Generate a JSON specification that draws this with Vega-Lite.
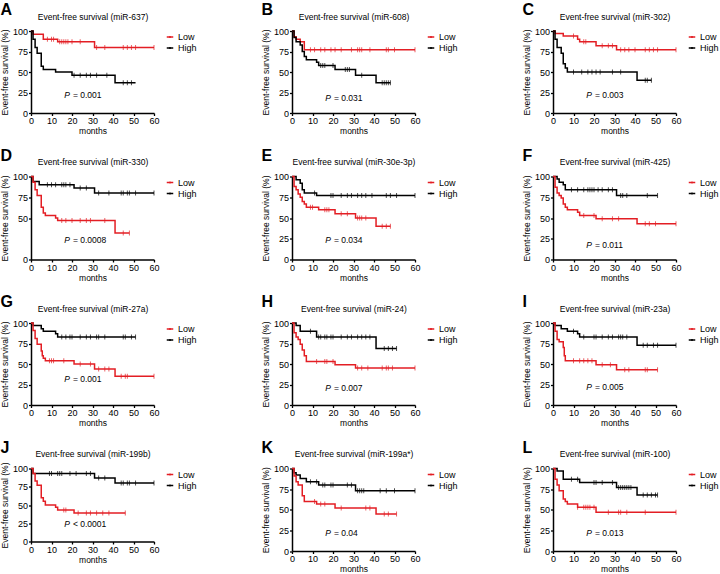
{
"$schema":"https://vega.github.io/schema/vega-lite/v6.json",
"padding":{"left":0,"top":2,"right":0,"bottom":0},
"background":"white",
"config":{
 "font":"Liberation Sans",
 "view":{"stroke":null},
 "axis":{"grid":false,"domainColor":"#000","domainWidth":1.5,"tickColor":"#000","tickWidth":1.3,"tickSize":2.5,"labelFont":"Liberation Sans","labelFontSize":9,"labelColor":"#000","labelPadding":1,"titleFont":"Liberation Sans","titleFontSize":8.5,"titleFontWeight":"normal","titleColor":"#000","titlePadding":2,"labelFlush":false,"labelOverlap":false},
 "axisX":{"titlePadding":1},
 "axisY":{"titlePadding":3},
 "legend":{"orient":"right","offset":7,"padding":0,"labelFont":"Liberation Sans","labelFontSize":9,"labelColor":"#000","symbolType":"M-0.65,0H0.65M0,-0.22V0.22","symbolSize":100,"symbolStrokeWidth":1.5,"rowPadding":-3,"labelOffset":2},
 "title":{"font":"Liberation Sans","fontSize":16,"fontWeight":"bold","anchor":"start","frame":"bounds","color":"#000","offset":-6},
 "line":{"strokeWidth":1.5},
 "tick":{"thickness":1,"size":5},
 "text":{"font":"Liberation Sans","fontSize":8.5,"color":"#000"}
},
"datasets":{
"pv":[
{"p":"A","v":"= 0.001"},{"p":"B","v":"= 0.031"},{"p":"C","v":"= 0.003"},{"p":"D","v":"= 0.0008"},{"p":"E","v":"= 0.034"},{"p":"F","v":"= 0.011"},{"p":"G","v":"= 0.001"},{"p":"H","v":"= 0.007"},{"p":"I","v":"= 0.005"},{"p":"J","v":"< 0.0001"},{"p":"K","v":"= 0.04"},{"p":"L","v":"= 0.013"}
],
"steps":[
{"p":"A","g":"Low","t":0,"s":100},{"p":"A","g":"Low","t":1,"s":96},{"p":"A","g":"Low","t":6,"s":90},{"p":"A","g":"Low","t":13,"s":87},{"p":"A","g":"Low","t":31,"s":80},{"p":"A","g":"Low","t":60,"s":80},
{"p":"A","g":"High","t":0,"s":100},{"p":"A","g":"High","t":1,"s":90},{"p":"A","g":"High","t":2,"s":80},{"p":"A","g":"High","t":3,"s":73},{"p":"A","g":"High","t":5,"s":57},{"p":"A","g":"High","t":6,"s":53},{"p":"A","g":"High","t":12,"s":50},{"p":"A","g":"High","t":20,"s":46},{"p":"A","g":"High","t":41,"s":37},{"p":"A","g":"High","t":51,"s":37},
{"p":"B","g":"Low","t":0,"s":100},{"p":"B","g":"Low","t":1,"s":93},{"p":"B","g":"Low","t":2,"s":90},{"p":"B","g":"Low","t":4,"s":87},{"p":"B","g":"Low","t":6,"s":77},{"p":"B","g":"Low","t":60,"s":77},
{"p":"B","g":"High","t":0,"s":100},{"p":"B","g":"High","t":1,"s":92},{"p":"B","g":"High","t":2,"s":87},{"p":"B","g":"High","t":4,"s":83},{"p":"B","g":"High","t":5,"s":75},{"p":"B","g":"High","t":6,"s":69},{"p":"B","g":"High","t":7,"s":65},{"p":"B","g":"High","t":12,"s":62},{"p":"B","g":"High","t":13,"s":58},{"p":"B","g":"High","t":21,"s":53},{"p":"B","g":"High","t":31,"s":46},{"p":"B","g":"High","t":41,"s":37},{"p":"B","g":"High","t":48,"s":37},
{"p":"C","g":"Low","t":0,"s":100},{"p":"C","g":"Low","t":1,"s":97},{"p":"C","g":"Low","t":5,"s":94},{"p":"C","g":"Low","t":12,"s":90},{"p":"C","g":"Low","t":13,"s":87},{"p":"C","g":"Low","t":21,"s":82},{"p":"C","g":"Low","t":31,"s":77},{"p":"C","g":"Low","t":60,"s":77},
{"p":"C","g":"High","t":0,"s":100},{"p":"C","g":"High","t":1,"s":90},{"p":"C","g":"High","t":2,"s":80},{"p":"C","g":"High","t":4,"s":73},{"p":"C","g":"High","t":5,"s":60},{"p":"C","g":"High","t":6,"s":55},{"p":"C","g":"High","t":7,"s":50},{"p":"C","g":"High","t":41,"s":40},{"p":"C","g":"High","t":48,"s":40},
{"p":"D","g":"High","t":0,"s":100},{"p":"D","g":"High","t":1,"s":94},{"p":"D","g":"High","t":4,"s":90},{"p":"D","g":"High","t":21,"s":86},{"p":"D","g":"High","t":31,"s":80},{"p":"D","g":"High","t":60,"s":80},
{"p":"D","g":"Low","t":0,"s":100},{"p":"D","g":"Low","t":1,"s":93},{"p":"D","g":"Low","t":2,"s":84},{"p":"D","g":"Low","t":3,"s":77},{"p":"D","g":"Low","t":5,"s":63},{"p":"D","g":"Low","t":6,"s":56},{"p":"D","g":"Low","t":7,"s":53},{"p":"D","g":"Low","t":12,"s":50},{"p":"D","g":"Low","t":13,"s":47},{"p":"D","g":"Low","t":41,"s":32},{"p":"D","g":"Low","t":48,"s":32},
{"p":"E","g":"High","t":0,"s":100},{"p":"E","g":"High","t":2,"s":96},{"p":"E","g":"High","t":4,"s":92},{"p":"E","g":"High","t":5,"s":84},{"p":"E","g":"High","t":6,"s":80},{"p":"E","g":"High","t":12,"s":77},{"p":"E","g":"High","t":60,"s":77},
{"p":"E","g":"Low","t":0,"s":100},{"p":"E","g":"Low","t":1,"s":88},{"p":"E","g":"Low","t":2,"s":84},{"p":"E","g":"Low","t":3,"s":79},{"p":"E","g":"Low","t":4,"s":75},{"p":"E","g":"Low","t":5,"s":70},{"p":"E","g":"Low","t":6,"s":67},{"p":"E","g":"Low","t":7,"s":63},{"p":"E","g":"Low","t":13,"s":60},{"p":"E","g":"Low","t":21,"s":55},{"p":"E","g":"Low","t":31,"s":50},{"p":"E","g":"Low","t":41,"s":40},{"p":"E","g":"Low","t":48,"s":40},
{"p":"F","g":"High","t":0,"s":100},{"p":"F","g":"High","t":2,"s":97},{"p":"F","g":"High","t":3,"s":93},{"p":"F","g":"High","t":5,"s":90},{"p":"F","g":"High","t":6,"s":84},{"p":"F","g":"High","t":31,"s":77},{"p":"F","g":"High","t":51,"s":77},
{"p":"F","g":"Low","t":0,"s":100},{"p":"F","g":"Low","t":1,"s":87},{"p":"F","g":"Low","t":2,"s":80},{"p":"F","g":"Low","t":3,"s":77},{"p":"F","g":"Low","t":4,"s":74},{"p":"F","g":"Low","t":5,"s":67},{"p":"F","g":"Low","t":6,"s":63},{"p":"F","g":"Low","t":7,"s":60},{"p":"F","g":"Low","t":12,"s":57},{"p":"F","g":"Low","t":13,"s":53},{"p":"F","g":"Low","t":21,"s":49},{"p":"F","g":"Low","t":41,"s":43},{"p":"F","g":"Low","t":60,"s":43},
{"p":"G","g":"High","t":0,"s":100},{"p":"G","g":"High","t":1,"s":97},{"p":"G","g":"High","t":5,"s":93},{"p":"G","g":"High","t":6,"s":90},{"p":"G","g":"High","t":12,"s":87},{"p":"G","g":"High","t":13,"s":83},{"p":"G","g":"High","t":51,"s":83},
{"p":"G","g":"Low","t":0,"s":100},{"p":"G","g":"Low","t":1,"s":91},{"p":"G","g":"Low","t":2,"s":81},{"p":"G","g":"Low","t":3,"s":74},{"p":"G","g":"Low","t":5,"s":66},{"p":"G","g":"Low","t":5.5,"s":60},{"p":"G","g":"Low","t":6,"s":57},{"p":"G","g":"Low","t":7,"s":54},{"p":"G","g":"Low","t":21,"s":50},{"p":"G","g":"Low","t":31,"s":44},{"p":"G","g":"Low","t":41,"s":35},{"p":"G","g":"Low","t":60,"s":35},
{"p":"H","g":"High","t":0,"s":100},{"p":"H","g":"High","t":2,"s":97},{"p":"H","g":"High","t":4,"s":90},{"p":"H","g":"High","t":12,"s":83},{"p":"H","g":"High","t":41,"s":69},{"p":"H","g":"High","t":51,"s":69},
{"p":"H","g":"Low","t":0,"s":100},{"p":"H","g":"Low","t":1,"s":88},{"p":"H","g":"Low","t":2,"s":83},{"p":"H","g":"Low","t":3,"s":80},{"p":"H","g":"Low","t":4,"s":74},{"p":"H","g":"Low","t":5,"s":67},{"p":"H","g":"Low","t":6,"s":60},{"p":"H","g":"Low","t":7,"s":53},{"p":"H","g":"Low","t":21,"s":49},{"p":"H","g":"Low","t":31,"s":45},{"p":"H","g":"Low","t":60,"s":45},
{"p":"I","g":"High","t":0,"s":100},{"p":"I","g":"High","t":1,"s":97},{"p":"I","g":"High","t":4,"s":93},{"p":"I","g":"High","t":7,"s":90},{"p":"I","g":"High","t":12,"s":87},{"p":"I","g":"High","t":13,"s":83},{"p":"I","g":"High","t":41,"s":73},{"p":"I","g":"High","t":60,"s":73},
{"p":"I","g":"Low","t":0,"s":100},{"p":"I","g":"Low","t":1,"s":90},{"p":"I","g":"Low","t":2,"s":80},{"p":"I","g":"Low","t":3,"s":77},{"p":"I","g":"Low","t":5,"s":70},{"p":"I","g":"Low","t":5.5,"s":60},{"p":"I","g":"Low","t":6,"s":54},{"p":"I","g":"Low","t":21,"s":49},{"p":"I","g":"Low","t":31,"s":43},{"p":"I","g":"Low","t":51,"s":43},
{"p":"J","g":"High","t":0,"s":100},{"p":"J","g":"High","t":1,"s":93},{"p":"J","g":"High","t":31,"s":87},{"p":"J","g":"High","t":41,"s":80},{"p":"J","g":"High","t":60,"s":80},
{"p":"J","g":"Low","t":0,"s":100},{"p":"J","g":"Low","t":1,"s":93},{"p":"J","g":"Low","t":2,"s":83},{"p":"J","g":"Low","t":3,"s":77},{"p":"J","g":"Low","t":5,"s":60},{"p":"J","g":"Low","t":6,"s":55},{"p":"J","g":"Low","t":7,"s":50},{"p":"J","g":"Low","t":12,"s":47},{"p":"J","g":"Low","t":13,"s":43},{"p":"J","g":"Low","t":21,"s":39},{"p":"J","g":"Low","t":46,"s":39},
{"p":"K","g":"High","t":0,"s":100},{"p":"K","g":"High","t":1,"s":95},{"p":"K","g":"High","t":2,"s":92},{"p":"K","g":"High","t":4,"s":88},{"p":"K","g":"High","t":7,"s":84},{"p":"K","g":"High","t":13,"s":80},{"p":"K","g":"High","t":31,"s":73},{"p":"K","g":"High","t":60,"s":73},
{"p":"K","g":"Low","t":0,"s":100},{"p":"K","g":"Low","t":1,"s":91},{"p":"K","g":"Low","t":2,"s":84},{"p":"K","g":"Low","t":3,"s":80},{"p":"K","g":"Low","t":5,"s":67},{"p":"K","g":"Low","t":6,"s":60},{"p":"K","g":"Low","t":12,"s":57},{"p":"K","g":"Low","t":21,"s":52},{"p":"K","g":"Low","t":41,"s":45},{"p":"K","g":"Low","t":51,"s":45},
{"p":"L","g":"High","t":0,"s":100},{"p":"L","g":"High","t":2,"s":97},{"p":"L","g":"High","t":5,"s":87},{"p":"L","g":"High","t":13,"s":83},{"p":"L","g":"High","t":31,"s":77},{"p":"L","g":"High","t":41,"s":68},{"p":"L","g":"High","t":51,"s":68},
{"p":"L","g":"Low","t":0,"s":100},{"p":"L","g":"Low","t":1,"s":87},{"p":"L","g":"Low","t":2,"s":80},{"p":"L","g":"Low","t":3,"s":73},{"p":"L","g":"Low","t":5,"s":63},{"p":"L","g":"Low","t":6,"s":60},{"p":"L","g":"Low","t":7,"s":57},{"p":"L","g":"Low","t":12,"s":53},{"p":"L","g":"Low","t":21,"s":47},{"p":"L","g":"Low","t":60,"s":47}
],
"cens":[
{"p":"A","g":"Low","t":8,"s":90},{"p":"A","g":"Low","t":10,"s":90},{"p":"A","g":"Low","t":11,"s":90},{"p":"A","g":"Low","t":14,"s":87},{"p":"A","g":"Low","t":15,"s":87},{"p":"A","g":"Low","t":16,"s":87},{"p":"A","g":"Low","t":17,"s":87},{"p":"A","g":"Low","t":18,"s":87},{"p":"A","g":"Low","t":20,"s":87},{"p":"A","g":"Low","t":24,"s":87},{"p":"A","g":"Low","t":32,"s":80},{"p":"A","g":"Low","t":36,"s":80},{"p":"A","g":"Low","t":45,"s":80},{"p":"A","g":"Low","t":47,"s":80},{"p":"A","g":"Low","t":49,"s":80},{"p":"A","g":"Low","t":51,"s":80},{"p":"A","g":"Low","t":60,"s":80},
{"p":"A","g":"High","t":21,"s":46},{"p":"A","g":"High","t":24,"s":46},{"p":"A","g":"High","t":27,"s":46},{"p":"A","g":"High","t":29,"s":46},{"p":"A","g":"High","t":32,"s":46},{"p":"A","g":"High","t":37,"s":46},{"p":"A","g":"High","t":45,"s":37},{"p":"A","g":"High","t":47,"s":37},{"p":"A","g":"High","t":49,"s":37},
{"p":"B","g":"Low","t":9,"s":77},{"p":"B","g":"Low","t":11,"s":77},{"p":"B","g":"Low","t":14,"s":77},{"p":"B","g":"Low","t":16,"s":77},{"p":"B","g":"Low","t":19,"s":77},{"p":"B","g":"Low","t":21,"s":77},{"p":"B","g":"Low","t":24,"s":77},{"p":"B","g":"Low","t":29,"s":77},{"p":"B","g":"Low","t":32,"s":77},{"p":"B","g":"Low","t":33,"s":77},{"p":"B","g":"Low","t":34,"s":77},{"p":"B","g":"Low","t":38,"s":77},{"p":"B","g":"Low","t":46,"s":77},{"p":"B","g":"Low","t":47,"s":77},{"p":"B","g":"Low","t":50,"s":77},{"p":"B","g":"Low","t":60,"s":77},
{"p":"B","g":"High","t":14,"s":58},{"p":"B","g":"High","t":15,"s":58},{"p":"B","g":"High","t":16,"s":58},{"p":"B","g":"High","t":20,"s":58},{"p":"B","g":"High","t":26,"s":53},{"p":"B","g":"High","t":27,"s":53},{"p":"B","g":"High","t":28,"s":53},{"p":"B","g":"High","t":34,"s":46},{"p":"B","g":"High","t":44,"s":37},{"p":"B","g":"High","t":45,"s":37},{"p":"B","g":"High","t":46,"s":37},{"p":"B","g":"High","t":47,"s":37},{"p":"B","g":"High","t":48,"s":37},
{"p":"C","g":"Low","t":10,"s":94},{"p":"C","g":"Low","t":15,"s":87},{"p":"C","g":"Low","t":16,"s":87},{"p":"C","g":"Low","t":24,"s":82},{"p":"C","g":"Low","t":27,"s":82},{"p":"C","g":"Low","t":29,"s":82},{"p":"C","g":"Low","t":33,"s":77},{"p":"C","g":"Low","t":35,"s":77},{"p":"C","g":"Low","t":37,"s":77},{"p":"C","g":"Low","t":40,"s":77},{"p":"C","g":"Low","t":45,"s":77},{"p":"C","g":"Low","t":47,"s":77},{"p":"C","g":"Low","t":49,"s":77},{"p":"C","g":"Low","t":51,"s":77},{"p":"C","g":"Low","t":60,"s":77},
{"p":"C","g":"High","t":10,"s":50},{"p":"C","g":"High","t":14,"s":50},{"p":"C","g":"High","t":17,"s":50},{"p":"C","g":"High","t":19,"s":50},{"p":"C","g":"High","t":21,"s":50},{"p":"C","g":"High","t":23,"s":50},{"p":"C","g":"High","t":29,"s":50},{"p":"C","g":"High","t":33,"s":50},{"p":"C","g":"High","t":45,"s":40},{"p":"C","g":"High","t":46,"s":40},{"p":"C","g":"High","t":48,"s":40},
{"p":"D","g":"High","t":8,"s":90},{"p":"D","g":"High","t":10,"s":90},{"p":"D","g":"High","t":12,"s":90},{"p":"D","g":"High","t":15,"s":90},{"p":"D","g":"High","t":16,"s":90},{"p":"D","g":"High","t":17,"s":90},{"p":"D","g":"High","t":19,"s":90},{"p":"D","g":"High","t":24,"s":86},{"p":"D","g":"High","t":27,"s":86},{"p":"D","g":"High","t":33,"s":80},{"p":"D","g":"High","t":38,"s":80},{"p":"D","g":"High","t":44,"s":80},{"p":"D","g":"High","t":45,"s":80},{"p":"D","g":"High","t":47,"s":80},{"p":"D","g":"High","t":48,"s":80},{"p":"D","g":"High","t":51,"s":80},{"p":"D","g":"High","t":60,"s":80},
{"p":"D","g":"Low","t":15,"s":47},{"p":"D","g":"Low","t":17,"s":47},{"p":"D","g":"Low","t":20,"s":47},{"p":"D","g":"Low","t":24,"s":47},{"p":"D","g":"Low","t":27,"s":47},{"p":"D","g":"Low","t":29,"s":47},{"p":"D","g":"Low","t":36,"s":47},{"p":"D","g":"Low","t":45,"s":32},{"p":"D","g":"Low","t":48,"s":32},
{"p":"E","g":"High","t":11,"s":80},{"p":"E","g":"High","t":19,"s":77},{"p":"E","g":"High","t":20,"s":77},{"p":"E","g":"High","t":24,"s":77},{"p":"E","g":"High","t":27,"s":77},{"p":"E","g":"High","t":29,"s":77},{"p":"E","g":"High","t":32,"s":77},{"p":"E","g":"High","t":34,"s":77},{"p":"E","g":"High","t":36,"s":77},{"p":"E","g":"High","t":39,"s":77},{"p":"E","g":"High","t":46,"s":77},{"p":"E","g":"High","t":48,"s":77},{"p":"E","g":"High","t":51,"s":77},{"p":"E","g":"High","t":60,"s":77},
{"p":"E","g":"Low","t":9,"s":63},{"p":"E","g":"Low","t":10,"s":63},{"p":"E","g":"Low","t":16,"s":60},{"p":"E","g":"Low","t":17,"s":60},{"p":"E","g":"Low","t":18,"s":60},{"p":"E","g":"Low","t":24,"s":55},{"p":"E","g":"Low","t":27,"s":55},{"p":"E","g":"Low","t":32,"s":50},{"p":"E","g":"Low","t":33,"s":50},{"p":"E","g":"Low","t":34,"s":50},{"p":"E","g":"Low","t":36,"s":50},{"p":"E","g":"Low","t":44,"s":40},{"p":"E","g":"Low","t":46,"s":40},{"p":"E","g":"Low","t":48,"s":40},
{"p":"F","g":"High","t":9,"s":84},{"p":"F","g":"High","t":12,"s":84},{"p":"F","g":"High","t":15,"s":84},{"p":"F","g":"High","t":17,"s":84},{"p":"F","g":"High","t":18,"s":84},{"p":"F","g":"High","t":19,"s":84},{"p":"F","g":"High","t":20,"s":84},{"p":"F","g":"High","t":22,"s":84},{"p":"F","g":"High","t":24,"s":84},{"p":"F","g":"High","t":27,"s":84},{"p":"F","g":"High","t":29,"s":84},{"p":"F","g":"High","t":33,"s":77},{"p":"F","g":"High","t":34,"s":77},{"p":"F","g":"High","t":36,"s":77},{"p":"F","g":"High","t":46,"s":77},{"p":"F","g":"High","t":51,"s":77},
{"p":"F","g":"Low","t":15,"s":53},{"p":"F","g":"Low","t":20,"s":53},{"p":"F","g":"Low","t":24,"s":49},{"p":"F","g":"Low","t":29,"s":49},{"p":"F","g":"Low","t":32,"s":49},{"p":"F","g":"Low","t":45,"s":43},{"p":"F","g":"Low","t":47,"s":43},{"p":"F","g":"Low","t":50,"s":43},{"p":"F","g":"Low","t":60,"s":43},
{"p":"G","g":"High","t":15,"s":83},{"p":"G","g":"High","t":17,"s":83},{"p":"G","g":"High","t":19,"s":83},{"p":"G","g":"High","t":20,"s":83},{"p":"G","g":"High","t":24,"s":83},{"p":"G","g":"High","t":27,"s":83},{"p":"G","g":"High","t":29,"s":83},{"p":"G","g":"High","t":32,"s":83},{"p":"G","g":"High","t":33,"s":83},{"p":"G","g":"High","t":36,"s":83},{"p":"G","g":"High","t":45,"s":83},{"p":"G","g":"High","t":46,"s":83},{"p":"G","g":"High","t":49,"s":83},{"p":"G","g":"High","t":51,"s":83},
{"p":"G","g":"Low","t":9,"s":54},{"p":"G","g":"Low","t":10,"s":54},{"p":"G","g":"Low","t":11,"s":54},{"p":"G","g":"Low","t":16,"s":54},{"p":"G","g":"Low","t":24,"s":50},{"p":"G","g":"Low","t":29,"s":50},{"p":"G","g":"Low","t":33,"s":44},{"p":"G","g":"Low","t":36,"s":44},{"p":"G","g":"Low","t":38,"s":44},{"p":"G","g":"Low","t":44,"s":35},{"p":"G","g":"Low","t":46,"s":35},{"p":"G","g":"Low","t":47,"s":35},{"p":"G","g":"Low","t":60,"s":35},
{"p":"H","g":"High","t":9,"s":90},{"p":"H","g":"High","t":13,"s":83},{"p":"H","g":"High","t":14,"s":83},{"p":"H","g":"High","t":16,"s":83},{"p":"H","g":"High","t":17,"s":83},{"p":"H","g":"High","t":19,"s":83},{"p":"H","g":"High","t":20,"s":83},{"p":"H","g":"High","t":24,"s":83},{"p":"H","g":"High","t":27,"s":83},{"p":"H","g":"High","t":29,"s":83},{"p":"H","g":"High","t":32,"s":83},{"p":"H","g":"High","t":34,"s":83},{"p":"H","g":"High","t":36,"s":83},{"p":"H","g":"High","t":38,"s":83},{"p":"H","g":"High","t":45,"s":69},{"p":"H","g":"High","t":47,"s":69},{"p":"H","g":"High","t":49,"s":69},{"p":"H","g":"High","t":51,"s":69},
{"p":"H","g":"Low","t":12,"s":53},{"p":"H","g":"Low","t":16,"s":53},{"p":"H","g":"Low","t":17,"s":53},{"p":"H","g":"Low","t":20,"s":53},{"p":"H","g":"Low","t":32,"s":45},{"p":"H","g":"Low","t":34,"s":45},{"p":"H","g":"Low","t":37,"s":45},{"p":"H","g":"Low","t":44,"s":45},{"p":"H","g":"Low","t":46,"s":45},{"p":"H","g":"Low","t":47,"s":45},{"p":"H","g":"Low","t":49,"s":45},{"p":"H","g":"Low","t":60,"s":45},
{"p":"I","g":"High","t":10,"s":90},{"p":"I","g":"High","t":15,"s":83},{"p":"I","g":"High","t":20,"s":83},{"p":"I","g":"High","t":21,"s":83},{"p":"I","g":"High","t":24,"s":83},{"p":"I","g":"High","t":27,"s":83},{"p":"I","g":"High","t":29,"s":83},{"p":"I","g":"High","t":32,"s":83},{"p":"I","g":"High","t":33,"s":83},{"p":"I","g":"High","t":34,"s":83},{"p":"I","g":"High","t":36,"s":83},{"p":"I","g":"High","t":44,"s":73},{"p":"I","g":"High","t":46,"s":73},{"p":"I","g":"High","t":49,"s":73},{"p":"I","g":"High","t":51,"s":73},{"p":"I","g":"High","t":60,"s":73},
{"p":"I","g":"Low","t":10,"s":54},{"p":"I","g":"Low","t":13,"s":54},{"p":"I","g":"Low","t":15,"s":54},{"p":"I","g":"Low","t":17,"s":54},{"p":"I","g":"Low","t":19,"s":54},{"p":"I","g":"Low","t":24,"s":49},{"p":"I","g":"Low","t":28,"s":49},{"p":"I","g":"Low","t":35,"s":43},{"p":"I","g":"Low","t":37,"s":43},{"p":"I","g":"Low","t":45,"s":43},{"p":"I","g":"Low","t":46,"s":43},{"p":"I","g":"Low","t":51,"s":43},
{"p":"J","g":"High","t":9,"s":93},{"p":"J","g":"High","t":10,"s":93},{"p":"J","g":"High","t":13,"s":93},{"p":"J","g":"High","t":14,"s":93},{"p":"J","g":"High","t":15,"s":93},{"p":"J","g":"High","t":19,"s":93},{"p":"J","g":"High","t":22,"s":93},{"p":"J","g":"High","t":27,"s":93},{"p":"J","g":"High","t":29,"s":93},{"p":"J","g":"High","t":33,"s":87},{"p":"J","g":"High","t":36,"s":87},{"p":"J","g":"High","t":44,"s":80},{"p":"J","g":"High","t":45,"s":80},{"p":"J","g":"High","t":47,"s":80},{"p":"J","g":"High","t":48,"s":80},{"p":"J","g":"High","t":51,"s":80},{"p":"J","g":"High","t":60,"s":80},
{"p":"J","g":"Low","t":16,"s":43},{"p":"J","g":"Low","t":17,"s":43},{"p":"J","g":"Low","t":23,"s":39},{"p":"J","g":"Low","t":27,"s":39},{"p":"J","g":"Low","t":29,"s":39},{"p":"J","g":"Low","t":32,"s":39},{"p":"J","g":"Low","t":35,"s":39},{"p":"J","g":"Low","t":38,"s":39},{"p":"J","g":"Low","t":46,"s":39},
{"p":"K","g":"High","t":9,"s":84},{"p":"K","g":"High","t":12,"s":84},{"p":"K","g":"High","t":15,"s":80},{"p":"K","g":"High","t":16,"s":80},{"p":"K","g":"High","t":19,"s":80},{"p":"K","g":"High","t":20,"s":80},{"p":"K","g":"High","t":27,"s":80},{"p":"K","g":"High","t":29,"s":80},{"p":"K","g":"High","t":32,"s":73},{"p":"K","g":"High","t":33,"s":73},{"p":"K","g":"High","t":34,"s":73},{"p":"K","g":"High","t":35,"s":73},{"p":"K","g":"High","t":43,"s":73},{"p":"K","g":"High","t":46,"s":73},{"p":"K","g":"High","t":50,"s":73},{"p":"K","g":"High","t":60,"s":73},
{"p":"K","g":"Low","t":11,"s":60},{"p":"K","g":"Low","t":14,"s":57},{"p":"K","g":"Low","t":16,"s":57},{"p":"K","g":"Low","t":24,"s":52},{"p":"K","g":"Low","t":36,"s":52},{"p":"K","g":"Low","t":38,"s":52},{"p":"K","g":"Low","t":45,"s":45},{"p":"K","g":"Low","t":47,"s":45},{"p":"K","g":"Low","t":51,"s":45},
{"p":"L","g":"High","t":9,"s":87},{"p":"L","g":"High","t":12,"s":87},{"p":"L","g":"High","t":20,"s":83},{"p":"L","g":"High","t":21,"s":83},{"p":"L","g":"High","t":24,"s":83},{"p":"L","g":"High","t":29,"s":83},{"p":"L","g":"High","t":32,"s":77},{"p":"L","g":"High","t":33,"s":77},{"p":"L","g":"High","t":34,"s":77},{"p":"L","g":"High","t":35,"s":77},{"p":"L","g":"High","t":36,"s":77},{"p":"L","g":"High","t":37,"s":77},{"p":"L","g":"High","t":38,"s":77},{"p":"L","g":"High","t":44,"s":68},{"p":"L","g":"High","t":46,"s":68},{"p":"L","g":"High","t":48,"s":68},{"p":"L","g":"High","t":50,"s":68},{"p":"L","g":"High","t":51,"s":68},
{"p":"L","g":"Low","t":12,"s":53},{"p":"L","g":"Low","t":15,"s":53},{"p":"L","g":"Low","t":16,"s":53},{"p":"L","g":"Low","t":17,"s":53},{"p":"L","g":"Low","t":18,"s":53},{"p":"L","g":"Low","t":20,"s":53},{"p":"L","g":"Low","t":27,"s":47},{"p":"L","g":"Low","t":32,"s":47},{"p":"L","g":"Low","t":33,"s":47},{"p":"L","g":"Low","t":36,"s":47},{"p":"L","g":"Low","t":45,"s":47},{"p":"L","g":"Low","t":60,"s":47}
]
},
"columns":3,
"spacing":{"row":12.5,"column":64},
"resolve":{"scale":{"color":"independent"},"legend":{"color":"independent"}},
"concat":[
{"title":"A","width":123,"height":82,"resolve":{"axis":{"x":"independent","y":"independent"}},"layer":[
{"data":{"name":"steps"},"transform":[{"filter":"datum.p==='A'"}],"mark":{"type":"line","interpolate":"step-after"},"encoding":{"x":{"field":"t","type":"quantitative","scale":{"domain":[0,60],"nice":false},"axis":{"title":"months","values":[0,10,20,30,40,50,60]}},"y":{"field":"s","type":"quantitative","scale":{"domain":[0,100]},"axis":{"title":"Event-free survival (%)","values":[0,25,50,75,100]}},"color":{"field":"g","type":"nominal","scale":{"domain":["Low","High"],"range":["#e31e24","#000000"]},"legend":{"title":null}}}},
{"data":{"name":"cens"},"transform":[{"filter":"datum.p==='A'"}],"mark":{"type":"tick","orient":"vertical"},"encoding":{"x":{"field":"t","type":"quantitative","axis":null},"y":{"field":"s","type":"quantitative","axis":null},"color":{"field":"g","type":"nominal","legend":null}}},
{"data":{"name":"pv"},"transform":[{"filter":"datum.p==='A'"}],"mark":{"type":"text","text":"P","fontStyle":"italic","align":"right"},"encoding":{"x":{"datum":19,"type":"quantitative","axis":{"orient":"top","title":"Event-free survival (miR-637)","labels":false,"ticks":false,"domain":false,"titlePadding":10}},"y":{"datum":22,"type":"quantitative","axis":null}}},
{"data":{"name":"pv"},"transform":[{"filter":"datum.p==='A'"}],"mark":{"type":"text","align":"left","dx":3},"encoding":{"text":{"field":"v"},"x":{"datum":19,"type":"quantitative","axis":null},"y":{"datum":22,"type":"quantitative","axis":null}}}
]},
{"title":"B","width":123,"height":82,"resolve":{"axis":{"x":"independent","y":"independent"}},"layer":[
{"data":{"name":"steps"},"transform":[{"filter":"datum.p==='B'"}],"mark":{"type":"line","interpolate":"step-after"},"encoding":{"x":{"field":"t","type":"quantitative","scale":{"domain":[0,60],"nice":false},"axis":{"title":"months","values":[0,10,20,30,40,50,60]}},"y":{"field":"s","type":"quantitative","scale":{"domain":[0,100]},"axis":{"title":"Event-free survival (%)","values":[0,25,50,75,100]}},"color":{"field":"g","type":"nominal","scale":{"domain":["Low","High"],"range":["#e31e24","#000000"]},"legend":{"title":null}}}},
{"data":{"name":"cens"},"transform":[{"filter":"datum.p==='B'"}],"mark":{"type":"tick","orient":"vertical"},"encoding":{"x":{"field":"t","type":"quantitative","axis":null},"y":{"field":"s","type":"quantitative","axis":null},"color":{"field":"g","type":"nominal","legend":null}}},
{"data":{"name":"pv"},"transform":[{"filter":"datum.p==='B'"}],"mark":{"type":"text","text":"P","fontStyle":"italic","align":"right"},"encoding":{"x":{"datum":19,"type":"quantitative","axis":{"orient":"top","title":"Event-free survival (miR-608)","labels":false,"ticks":false,"domain":false,"titlePadding":10}},"y":{"datum":18,"type":"quantitative","axis":null}}},
{"data":{"name":"pv"},"transform":[{"filter":"datum.p==='B'"}],"mark":{"type":"text","align":"left","dx":3},"encoding":{"text":{"field":"v"},"x":{"datum":19,"type":"quantitative","axis":null},"y":{"datum":18,"type":"quantitative","axis":null}}}
]},
{"title":"C","width":123,"height":82,"resolve":{"axis":{"x":"independent","y":"independent"}},"layer":[
{"data":{"name":"steps"},"transform":[{"filter":"datum.p==='C'"}],"mark":{"type":"line","interpolate":"step-after"},"encoding":{"x":{"field":"t","type":"quantitative","scale":{"domain":[0,60],"nice":false},"axis":{"title":"months","values":[0,10,20,30,40,50,60]}},"y":{"field":"s","type":"quantitative","scale":{"domain":[0,100]},"axis":{"title":"Event-free survival (%)","values":[0,25,50,75,100]}},"color":{"field":"g","type":"nominal","scale":{"domain":["Low","High"],"range":["#e31e24","#000000"]},"legend":{"title":null}}}},
{"data":{"name":"cens"},"transform":[{"filter":"datum.p==='C'"}],"mark":{"type":"tick","orient":"vertical"},"encoding":{"x":{"field":"t","type":"quantitative","axis":null},"y":{"field":"s","type":"quantitative","axis":null},"color":{"field":"g","type":"nominal","legend":null}}},
{"data":{"name":"pv"},"transform":[{"filter":"datum.p==='C'"}],"mark":{"type":"text","text":"P","fontStyle":"italic","align":"right"},"encoding":{"x":{"datum":19,"type":"quantitative","axis":{"orient":"top","title":"Event-free survival (miR-302)","labels":false,"ticks":false,"domain":false,"titlePadding":10}},"y":{"datum":22,"type":"quantitative","axis":null}}},
{"data":{"name":"pv"},"transform":[{"filter":"datum.p==='C'"}],"mark":{"type":"text","align":"left","dx":3},"encoding":{"text":{"field":"v"},"x":{"datum":19,"type":"quantitative","axis":null},"y":{"datum":22,"type":"quantitative","axis":null}}}
]},
{"title":"D","width":123,"height":83,"resolve":{"axis":{"x":"independent","y":"independent"}},"layer":[
{"data":{"name":"steps"},"transform":[{"filter":"datum.p==='D'"}],"mark":{"type":"line","interpolate":"step-after"},"encoding":{"x":{"field":"t","type":"quantitative","scale":{"domain":[0,60],"nice":false},"axis":{"title":"months","values":[0,10,20,30,40,50,60]}},"y":{"field":"s","type":"quantitative","scale":{"domain":[0,100]},"axis":{"title":"Event-free survival (%)","values":[0,50,75,100]}},"color":{"field":"g","type":"nominal","scale":{"domain":["Low","High"],"range":["#e31e24","#000000"]},"legend":{"title":null}}}},
{"data":{"name":"cens"},"transform":[{"filter":"datum.p==='D'"}],"mark":{"type":"tick","orient":"vertical"},"encoding":{"x":{"field":"t","type":"quantitative","axis":null},"y":{"field":"s","type":"quantitative","axis":null},"color":{"field":"g","type":"nominal","legend":null}}},
{"data":{"name":"pv"},"transform":[{"filter":"datum.p==='D'"}],"mark":{"type":"text","text":"P","fontStyle":"italic","align":"right"},"encoding":{"x":{"datum":19,"type":"quantitative","axis":{"orient":"top","title":"Event-free survival (miR-330)","labels":false,"ticks":false,"domain":false,"titlePadding":10}},"y":{"datum":23,"type":"quantitative","axis":null}}},
{"data":{"name":"pv"},"transform":[{"filter":"datum.p==='D'"}],"mark":{"type":"text","align":"left","dx":3},"encoding":{"text":{"field":"v"},"x":{"datum":19,"type":"quantitative","axis":null},"y":{"datum":23,"type":"quantitative","axis":null}}}
]},
{"title":"E","width":123,"height":83,"resolve":{"axis":{"x":"independent","y":"independent"}},"layer":[
{"data":{"name":"steps"},"transform":[{"filter":"datum.p==='E'"}],"mark":{"type":"line","interpolate":"step-after"},"encoding":{"x":{"field":"t","type":"quantitative","scale":{"domain":[0,60],"nice":false},"axis":{"title":"months","values":[0,10,20,30,40,50,60]}},"y":{"field":"s","type":"quantitative","scale":{"domain":[0,100]},"axis":{"title":"Event-free survival (%)","values":[0,25,50,75,100]}},"color":{"field":"g","type":"nominal","scale":{"domain":["Low","High"],"range":["#e31e24","#000000"]},"legend":{"title":null}}}},
{"data":{"name":"cens"},"transform":[{"filter":"datum.p==='E'"}],"mark":{"type":"tick","orient":"vertical"},"encoding":{"x":{"field":"t","type":"quantitative","axis":null},"y":{"field":"s","type":"quantitative","axis":null},"color":{"field":"g","type":"nominal","legend":null}}},
{"data":{"name":"pv"},"transform":[{"filter":"datum.p==='E'"}],"mark":{"type":"text","text":"P","fontStyle":"italic","align":"right"},"encoding":{"x":{"datum":19,"type":"quantitative","axis":{"orient":"top","title":"Event-free survival (miR-30e-3p)","labels":false,"ticks":false,"domain":false,"titlePadding":10}},"y":{"datum":23,"type":"quantitative","axis":null}}},
{"data":{"name":"pv"},"transform":[{"filter":"datum.p==='E'"}],"mark":{"type":"text","align":"left","dx":3},"encoding":{"text":{"field":"v"},"x":{"datum":19,"type":"quantitative","axis":null},"y":{"datum":23,"type":"quantitative","axis":null}}}
]},
{"title":"F","width":123,"height":83,"resolve":{"axis":{"x":"independent","y":"independent"}},"layer":[
{"data":{"name":"steps"},"transform":[{"filter":"datum.p==='F'"}],"mark":{"type":"line","interpolate":"step-after"},"encoding":{"x":{"field":"t","type":"quantitative","scale":{"domain":[0,60],"nice":false},"axis":{"title":"months","values":[0,10,20,30,40,50,60]}},"y":{"field":"s","type":"quantitative","scale":{"domain":[0,100]},"axis":{"title":"Event-free survival (%)","values":[0,25,50,75,100]}},"color":{"field":"g","type":"nominal","scale":{"domain":["Low","High"],"range":["#e31e24","#000000"]},"legend":{"title":null}}}},
{"data":{"name":"cens"},"transform":[{"filter":"datum.p==='F'"}],"mark":{"type":"tick","orient":"vertical"},"encoding":{"x":{"field":"t","type":"quantitative","axis":null},"y":{"field":"s","type":"quantitative","axis":null},"color":{"field":"g","type":"nominal","legend":null}}},
{"data":{"name":"pv"},"transform":[{"filter":"datum.p==='F'"}],"mark":{"type":"text","text":"P","fontStyle":"italic","align":"right"},"encoding":{"x":{"datum":19,"type":"quantitative","axis":{"orient":"top","title":"Event-free survival (miR-425)","labels":false,"ticks":false,"domain":false,"titlePadding":10}},"y":{"datum":17.5,"type":"quantitative","axis":null}}},
{"data":{"name":"pv"},"transform":[{"filter":"datum.p==='F'"}],"mark":{"type":"text","align":"left","dx":3},"encoding":{"text":{"field":"v"},"x":{"datum":19,"type":"quantitative","axis":null},"y":{"datum":17.5,"type":"quantitative","axis":null}}}
]},
{"title":"G","width":123,"height":82,"resolve":{"axis":{"x":"independent","y":"independent"}},"layer":[
{"data":{"name":"steps"},"transform":[{"filter":"datum.p==='G'"}],"mark":{"type":"line","interpolate":"step-after"},"encoding":{"x":{"field":"t","type":"quantitative","scale":{"domain":[0,60],"nice":false},"axis":{"title":"months","values":[0,10,20,30,40,50,60]}},"y":{"field":"s","type":"quantitative","scale":{"domain":[0,100]},"axis":{"title":"Event-free survival (%)","values":[0,25,50,75,100]}},"color":{"field":"g","type":"nominal","scale":{"domain":["Low","High"],"range":["#e31e24","#000000"]},"legend":{"title":null}}}},
{"data":{"name":"cens"},"transform":[{"filter":"datum.p==='G'"}],"mark":{"type":"tick","orient":"vertical"},"encoding":{"x":{"field":"t","type":"quantitative","axis":null},"y":{"field":"s","type":"quantitative","axis":null},"color":{"field":"g","type":"nominal","legend":null}}},
{"data":{"name":"pv"},"transform":[{"filter":"datum.p==='G'"}],"mark":{"type":"text","text":"P","fontStyle":"italic","align":"right"},"encoding":{"x":{"datum":19,"type":"quantitative","axis":{"orient":"top","title":"Event-free survival (miR-27a)","labels":false,"ticks":false,"domain":false,"titlePadding":10}},"y":{"datum":32,"type":"quantitative","axis":null}}},
{"data":{"name":"pv"},"transform":[{"filter":"datum.p==='G'"}],"mark":{"type":"text","align":"left","dx":3},"encoding":{"text":{"field":"v"},"x":{"datum":19,"type":"quantitative","axis":null},"y":{"datum":32,"type":"quantitative","axis":null}}}
]},
{"title":"H","width":123,"height":82,"resolve":{"axis":{"x":"independent","y":"independent"}},"layer":[
{"data":{"name":"steps"},"transform":[{"filter":"datum.p==='H'"}],"mark":{"type":"line","interpolate":"step-after"},"encoding":{"x":{"field":"t","type":"quantitative","scale":{"domain":[0,60],"nice":false},"axis":{"title":"months","values":[0,10,20,30,40,50,60]}},"y":{"field":"s","type":"quantitative","scale":{"domain":[0,100]},"axis":{"title":"Event-free survival (%)","values":[0,25,50,75,100]}},"color":{"field":"g","type":"nominal","scale":{"domain":["Low","High"],"range":["#e31e24","#000000"]},"legend":{"title":null}}}},
{"data":{"name":"cens"},"transform":[{"filter":"datum.p==='H'"}],"mark":{"type":"tick","orient":"vertical"},"encoding":{"x":{"field":"t","type":"quantitative","axis":null},"y":{"field":"s","type":"quantitative","axis":null},"color":{"field":"g","type":"nominal","legend":null}}},
{"data":{"name":"pv"},"transform":[{"filter":"datum.p==='H'"}],"mark":{"type":"text","text":"P","fontStyle":"italic","align":"right"},"encoding":{"x":{"datum":19,"type":"quantitative","axis":{"orient":"top","title":"Event-free survival (miR-24)","labels":false,"ticks":false,"domain":false,"titlePadding":10}},"y":{"datum":21,"type":"quantitative","axis":null}}},
{"data":{"name":"pv"},"transform":[{"filter":"datum.p==='H'"}],"mark":{"type":"text","align":"left","dx":3},"encoding":{"text":{"field":"v"},"x":{"datum":19,"type":"quantitative","axis":null},"y":{"datum":21,"type":"quantitative","axis":null}}}
]},
{"title":"I","width":123,"height":82,"resolve":{"axis":{"x":"independent","y":"independent"}},"layer":[
{"data":{"name":"steps"},"transform":[{"filter":"datum.p==='I'"}],"mark":{"type":"line","interpolate":"step-after"},"encoding":{"x":{"field":"t","type":"quantitative","scale":{"domain":[0,60],"nice":false},"axis":{"title":"months","values":[0,10,20,30,40,50,60]}},"y":{"field":"s","type":"quantitative","scale":{"domain":[0,100]},"axis":{"title":"Event-free survival (%)","values":[0,25,50,75,100]}},"color":{"field":"g","type":"nominal","scale":{"domain":["Low","High"],"range":["#e31e24","#000000"]},"legend":{"title":null}}}},
{"data":{"name":"cens"},"transform":[{"filter":"datum.p==='I'"}],"mark":{"type":"tick","orient":"vertical"},"encoding":{"x":{"field":"t","type":"quantitative","axis":null},"y":{"field":"s","type":"quantitative","axis":null},"color":{"field":"g","type":"nominal","legend":null}}},
{"data":{"name":"pv"},"transform":[{"filter":"datum.p==='I'"}],"mark":{"type":"text","text":"P","fontStyle":"italic","align":"right"},"encoding":{"x":{"datum":19,"type":"quantitative","axis":{"orient":"top","title":"Event-free survival (miR-23a)","labels":false,"ticks":false,"domain":false,"titlePadding":10}},"y":{"datum":22,"type":"quantitative","axis":null}}},
{"data":{"name":"pv"},"transform":[{"filter":"datum.p==='I'"}],"mark":{"type":"text","align":"left","dx":3},"encoding":{"text":{"field":"v"},"x":{"datum":19,"type":"quantitative","axis":null},"y":{"datum":22,"type":"quantitative","axis":null}}}
]},
{"title":"J","width":123,"height":73,"resolve":{"axis":{"x":"independent","y":"independent"}},"layer":[
{"data":{"name":"steps"},"transform":[{"filter":"datum.p==='J'"}],"mark":{"type":"line","interpolate":"step-after"},"encoding":{"x":{"field":"t","type":"quantitative","scale":{"domain":[0,60],"nice":false},"axis":{"title":"months","values":[0,10,20,30,40,50,60]}},"y":{"field":"s","type":"quantitative","scale":{"domain":[0,100]},"axis":{"title":"Event-free survival (%)","values":[0,25,50,75,100]}},"color":{"field":"g","type":"nominal","scale":{"domain":["Low","High"],"range":["#e31e24","#000000"]},"legend":{"title":null}}}},
{"data":{"name":"cens"},"transform":[{"filter":"datum.p==='J'"}],"mark":{"type":"tick","orient":"vertical"},"encoding":{"x":{"field":"t","type":"quantitative","axis":null},"y":{"field":"s","type":"quantitative","axis":null},"color":{"field":"g","type":"nominal","legend":null}}},
{"data":{"name":"pv"},"transform":[{"filter":"datum.p==='J'"}],"mark":{"type":"text","text":"P","fontStyle":"italic","align":"right"},"encoding":{"x":{"datum":19,"type":"quantitative","axis":{"orient":"top","title":"Event-free survival (miR-199b)","labels":false,"ticks":false,"domain":false,"titlePadding":10}},"y":{"datum":24,"type":"quantitative","axis":null}}},
{"data":{"name":"pv"},"transform":[{"filter":"datum.p==='J'"}],"mark":{"type":"text","align":"left","dx":3},"encoding":{"text":{"field":"v"},"x":{"datum":19,"type":"quantitative","axis":null},"y":{"datum":24,"type":"quantitative","axis":null}}}
]},
{"title":"K","width":123,"height":82.5,"resolve":{"axis":{"x":"independent","y":"independent"}},"layer":[
{"data":{"name":"steps"},"transform":[{"filter":"datum.p==='K'"}],"mark":{"type":"line","interpolate":"step-after"},"encoding":{"x":{"field":"t","type":"quantitative","scale":{"domain":[0,60],"nice":false},"axis":{"title":"months","values":[0,10,20,30,40,50,60]}},"y":{"field":"s","type":"quantitative","scale":{"domain":[0,100]},"axis":{"title":"Event-free survival (%)","values":[0,25,50,75,100]}},"color":{"field":"g","type":"nominal","scale":{"domain":["Low","High"],"range":["#e31e24","#000000"]},"legend":{"title":null}}}},
{"data":{"name":"cens"},"transform":[{"filter":"datum.p==='K'"}],"mark":{"type":"tick","orient":"vertical"},"encoding":{"x":{"field":"t","type":"quantitative","axis":null},"y":{"field":"s","type":"quantitative","axis":null},"color":{"field":"g","type":"nominal","legend":null}}},
{"data":{"name":"pv"},"transform":[{"filter":"datum.p==='K'"}],"mark":{"type":"text","text":"P","fontStyle":"italic","align":"right"},"encoding":{"x":{"datum":19,"type":"quantitative","axis":{"orient":"top","title":"Event-free survival (miR-199a*)","labels":false,"ticks":false,"domain":false,"titlePadding":10}},"y":{"datum":22,"type":"quantitative","axis":null}}},
{"data":{"name":"pv"},"transform":[{"filter":"datum.p==='K'"}],"mark":{"type":"text","align":"left","dx":3},"encoding":{"text":{"field":"v"},"x":{"datum":19,"type":"quantitative","axis":null},"y":{"datum":22,"type":"quantitative","axis":null}}}
]},
{"title":"L","width":123,"height":82.5,"resolve":{"axis":{"x":"independent","y":"independent"}},"layer":[
{"data":{"name":"steps"},"transform":[{"filter":"datum.p==='L'"}],"mark":{"type":"line","interpolate":"step-after"},"encoding":{"x":{"field":"t","type":"quantitative","scale":{"domain":[0,60],"nice":false},"axis":{"title":"months","values":[0,10,20,30,40,50,60]}},"y":{"field":"s","type":"quantitative","scale":{"domain":[0,100]},"axis":{"title":"Event-free survival (%)","values":[0,25,50,75,100]}},"color":{"field":"g","type":"nominal","scale":{"domain":["Low","High"],"range":["#e31e24","#000000"]},"legend":{"title":null}}}},
{"data":{"name":"cens"},"transform":[{"filter":"datum.p==='L'"}],"mark":{"type":"tick","orient":"vertical"},"encoding":{"x":{"field":"t","type":"quantitative","axis":null},"y":{"field":"s","type":"quantitative","axis":null},"color":{"field":"g","type":"nominal","legend":null}}},
{"data":{"name":"pv"},"transform":[{"filter":"datum.p==='L'"}],"mark":{"type":"text","text":"P","fontStyle":"italic","align":"right"},"encoding":{"x":{"datum":19,"type":"quantitative","axis":{"orient":"top","title":"Event-free survival (miR-100)","labels":false,"ticks":false,"domain":false,"titlePadding":10}},"y":{"datum":22,"type":"quantitative","axis":null}}},
{"data":{"name":"pv"},"transform":[{"filter":"datum.p==='L'"}],"mark":{"type":"text","align":"left","dx":3},"encoding":{"text":{"field":"v"},"x":{"datum":19,"type":"quantitative","axis":null},"y":{"datum":22,"type":"quantitative","axis":null}}}
]}
]
}
